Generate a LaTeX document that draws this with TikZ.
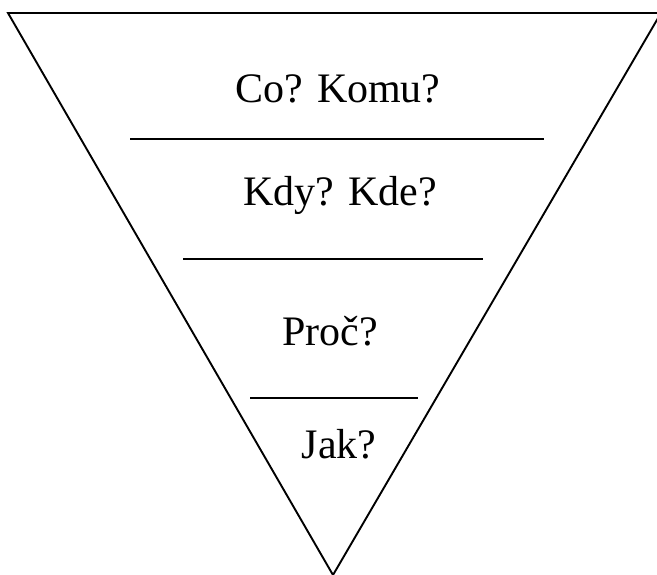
\documentclass[tikz,border=0pt]{standalone}
\usepackage{fontspec}
\setmainfont{Liberation Serif}
\begin{document}
\begin{tikzpicture}[x=1pt,y=-1pt,
  funnel/.style={line width=1.9pt, line join=miter},
  divider/.style={line width=2.3pt},
  label/.style={anchor=base, inner sep=0pt, font=\fontsize{42}{50}\selectfont}]
  \useasboundingbox (0,0) rectangle (657,575);
  \begin{scope}
    \clip (0,0) rectangle (657,575);
    % inverted triangle
    \coordinate (tl) at (8,13);
    \coordinate (tr) at (661,13);
    \coordinate (ap) at (333,575);
    \draw[funnel] (tl) -- (tr) -- (ap) -- cycle;
  \end{scope}
  % divider lines
  \coordinate (d1a) at (130,139); \coordinate (d1b) at (544,139);
  \coordinate (d2a) at (183,259); \coordinate (d2b) at (483,259);
  \coordinate (d3a) at (250,398); \coordinate (d3b) at (418,398);
  \draw[divider] (d1a) -- (d1b);
  \draw[divider] (d2a) -- (d2b);
  \draw[divider] (d3a) -- (d3b);
  % labels
  \node[label] (t1) at (338,103) {Co? Komu?};
  \node[label] (t2) at (340,206) {Kdy? Kde?};
  \node[label] (t3) at (330,345) {Proč?};
  \node[label] (t4) at (339,458) {Jak?};
\end{tikzpicture}
\end{document}
